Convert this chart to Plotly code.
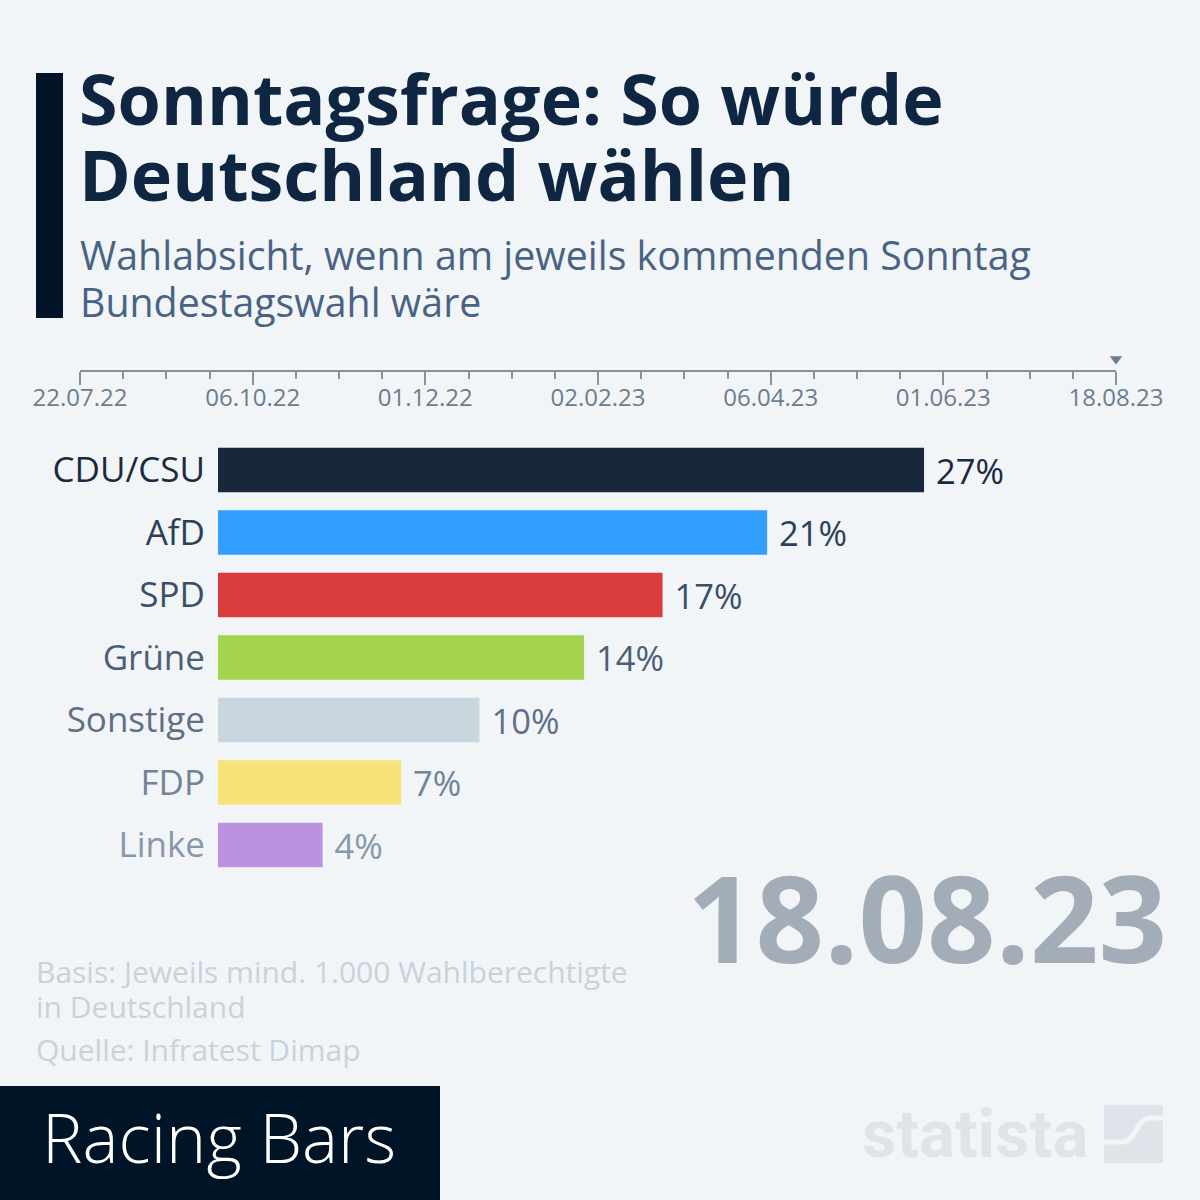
import plotly.graph_objects as go

# ---------------- data ----------------
parties = ["CDU/CSU", "AfD", "SPD", "Grüne", "Sonstige", "FDP", "Linke"]
values = [27, 21, 17, 14, 10, 7, 4]
bar_colors = ["#18273c", "#329ffe", "#d93c3f", "#a4d44e", "#c9d6de", "#f7e37a", "#bb92e0"]
label_colors = ["#1b2a3e", "#2c3f57", "#3b4e65", "#4d5f75", "#5f7085", "#738396", "#8898a8"]

timeline_labels = ["22.07.22", "06.10.22", "01.12.22", "02.02.23", "06.04.23", "01.06.23", "18.08.23"]
timeline_steps_per_label = 4
current_date = "18.08.23"

title_lines = ["Sonntagsfrage: So würde", "Deutschland wählen"]
subtitle_lines = ["Wahlabsicht, wenn am jeweils kommenden Sonntag", "Bundestagswahl wäre"]
note_lines = ["Basis: Jeweils mind. 1.000 Wahlberechtigte", "in Deutschland", "Quelle: Infratest Dimap"]

# ---------------- helpers ----------------
W = H = 1200
BG = "#f2f5f8"
FONT = "Open Sans"
AXIS_GREY = "#8593a0"
TICK_TEXT = "#6c7d8e"


def px(x):
    return x / W


def py(y):
    return 1 - y / H


fig = go.Figure()

# bars
fig.add_trace(go.Bar(
    y=parties, x=values, orientation="h",
    marker=dict(color=bar_colors, line=dict(width=0)),
    width=0.71,
    text=[f" {v}%" for v in values],
    textposition="outside",
    constraintext="none",
    cliponaxis=False,
    textfont=dict(family=FONT, size=34.5, color=label_colors),
    hoverinfo="skip",
    xaxis="x", yaxis="y",
))

# timeline
n_steps = timeline_steps_per_label * (len(timeline_labels) - 1)
major_vals = [i * timeline_steps_per_label for i in range(len(timeline_labels))]
fig.add_trace(go.Scatter(
    x=[major_vals[timeline_labels.index(current_date)]], y=[0.37],
    mode="markers",
    marker=dict(symbol="triangle-down", size=11, color=TICK_TEXT),
    cliponaxis=False, hoverinfo="skip",
    xaxis="x2", yaxis="y2",
))

fig.update_layout(
    template="none",
    width=W, height=H, autosize=False,
    margin=dict(l=0, r=0, t=0, b=0, pad=0, autoexpand=False),
    paper_bgcolor=BG, plot_bgcolor="rgba(0,0,0,0)",
    showlegend=False,
    font=dict(family=FONT),
    xaxis=dict(domain=[px(218), 1.0], range=[0, 982 / 26.15], visible=False,
               fixedrange=True, automargin=False),
    yaxis=dict(
        domain=[py(876.25), py(438.75)],
        type="category", categoryorder="array", categoryarray=parties,
        range=[len(parties) - 0.5, -0.5],
        tickmode="array", tickvals=parties,
        ticktext=[f"<span style='color:{c}'>{p}</span>" for p, c in zip(parties, label_colors)],
        tickfont=dict(family=FONT, size=35),
        ticks="", showline=False, showgrid=False, zeroline=False,
        ticklabelstandoff=12, automargin=False, fixedrange=True,
    ),
    xaxis2=dict(
        domain=[px(80), px(1116)], range=[0, n_steps], anchor="y2",
        showline=True, linecolor=AXIS_GREY, linewidth=2,
        tickmode="array", tickvals=major_vals, ticktext=timeline_labels,
        tickfont=dict(family=FONT, size=24, color=TICK_TEXT), ticklabelstandoff=-8,
        ticks="outside", ticklen=13, tickwidth=2, tickcolor=AXIS_GREY,
        minor=dict(tick0=0, dtick=1, ticks="outside", ticklen=7,
                   tickwidth=2, tickcolor=AXIS_GREY, showgrid=False),
        showgrid=False, zeroline=False, fixedrange=True, automargin=False,
    ),
    yaxis2=dict(domain=[py(370), py(340)], range=[0, 1], visible=False,
                fixedrange=True, automargin=False),
)

shapes = [
    # title accent bar
    dict(type="rect", xref="paper", yref="paper", x0=px(36), x1=px(63), y0=py(318), y1=py(73),
         fillcolor="#001327", line=dict(width=0), layer="above"),
    # Racing Bars box
    dict(type="rect", xref="paper", yref="paper", x0=0, x1=px(440), y0=0, y1=py(1086),
         fillcolor="#001428", line=dict(width=0), layer="above"),
    # statista icon
    dict(type="rect", xref="paper", yref="paper", x0=px(1104), x1=px(1163), y0=py(1163), y1=py(1105),
         fillcolor="#dfe4ea", line=dict(width=0), layer="below"),
]
icon_path = (f"M {px(1104)},{py(1142)} L {px(1122)},{py(1142)} "
             f"C {px(1136)},{py(1142)} {px(1136)},{py(1118)} {px(1150)},{py(1118)} "
             f"L {px(1163)},{py(1118)}")
shapes.append(dict(type="path", xref="paper", yref="paper", path=icon_path,
                   line=dict(color=BG, width=5), layer="below"))

annotations = []
# title
for text, yc in zip(title_lines, [98, 174]):
    annotations.append(dict(text=f"<b>{text}</b>", x=px(77), y=py(yc), xref="paper", yref="paper",
                            xanchor="left", yanchor="middle", showarrow=False,
                            font=dict(family=FONT, size=70, color="#0f2642")))
# subtitle
for text, yc in zip(subtitle_lines, [255, 302]):
    annotations.append(dict(text=text, x=px(78), y=py(yc), xref="paper", yref="paper",
                            xanchor="left", yanchor="middle", showarrow=False,
                            font=dict(family=FONT, size=39.3, color="#4a6382")))
# notes
for text, yc in zip(note_lines, [971, 1006.5, 1049]):
    annotations.append(dict(text=text, x=px(34), y=py(yc), xref="paper", yref="paper",
                            xanchor="left", yanchor="middle", showarrow=False,
                            font=dict(family=FONT, size=30, color="#c8d2dc")))
# big date
annotations.append(dict(text=f"<b>{current_date}</b>", x=px(1169), y=py(916), xref="paper", yref="paper",
                        xanchor="right", yanchor="middle", showarrow=False,
                        font=dict(family=FONT, size=120, color="#a3adb8")))
# Racing Bars
annotations.append(dict(text="Racing Bars", x=px(40), y=py(1136), xref="paper", yref="paper",
                        xanchor="left", yanchor="middle", showarrow=False,
                        font=dict(family="Open Sans Light, Open Sans", size=68, color="#ffffff", weight=300)))
# statista wordmark
annotations.append(dict(text="<b>statista</b>", x=px(1090), y=py(1134), xref="paper", yref="paper",
                        xanchor="right", yanchor="middle", showarrow=False,
                        font=dict(family="Liberation Sans Narrow, Roboto, sans-serif", size=67, color="#dfe4ea")))

fig.update_layout(shapes=shapes, annotations=annotations)

fig.write_html("out.html", config={"displayModeBar": False},
               post_script="document.body.style.margin='0px';")
